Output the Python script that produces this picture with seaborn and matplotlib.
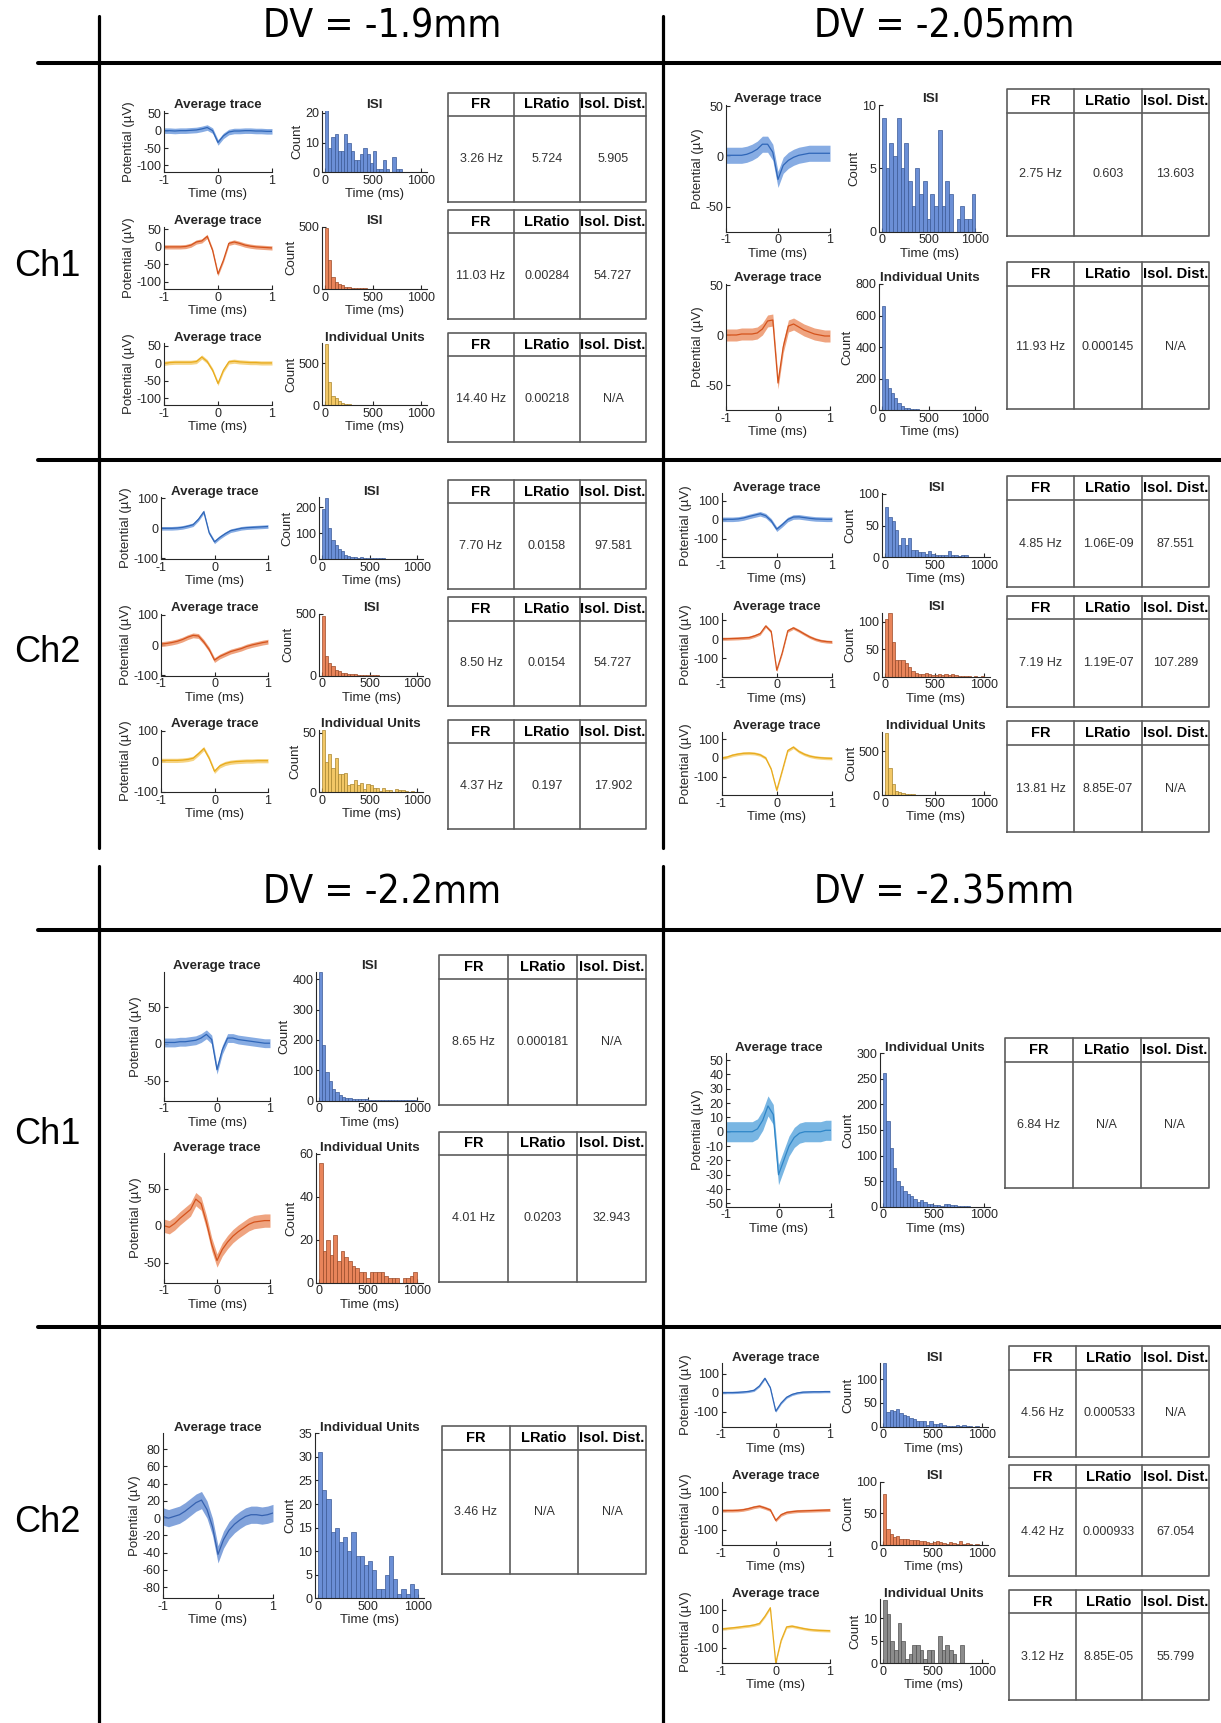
import numpy as np
import pandas as pd
import matplotlib
matplotlib.use("Agg")
import matplotlib.pyplot as plt
import seaborn as sns
from matplotlib import font_manager

sns.set_theme(style="white")
plt.rcParams['font.family'] = ['Liberation Sans', 'DejaVu Sans']
plt.rcParams['axes.unicode_minus'] = False

W, H = 1221, 1723

# ---------------- data ----------------
t_ms = [-1.0, -0.9, -0.8, -0.7, -0.6, -0.5, -0.4, -0.3, -0.2, -0.1, 0.0,
        0.1, 0.2, 0.3, 0.4, 0.5, 0.6, 0.7, 0.8, 0.9, 1.0]

# DV = -1.9mm, Ch1
a1_trace = [0, 0, -1, 0, 0, 1, 2, 5, 9, 0, -34, -15, -4, -1, -1, 0, 0, -1, -1, -2, -2]
a2_trace = [0, 0, 0, 0, 1, 5, 14, 17, 30, -10, -77, -38, 10, 14, 10, 5, 2, 0, -1, -2, -3]
a3_trace = [0, 2, 3, 3, 3, 3, 5, 18, 5, -20, -58, -20, 4, 6, 4, 3, 2, 2, 1, 1, 1]
a_sd = [8, 6, 6]
a1_hist = [21, 8, 12, 13, 7, 7, 13, 10, 7, 4, 4, 6, 8, 6, 3, 7, 1, 1, 4, 1, 0, 5, 1, 1, 0, 0, 0, 0, 0, 0]
a2_hist = [490, 230, 100, 55, 40, 30, 20, 15, 12, 10, 10, 8, 5, 4, 4, 3, 2, 2, 2, 1, 1, 1, 1, 1, 1, 0, 0, 0, 0, 0]
a3_hist = [730, 280, 110, 80, 50, 25, 12, 10, 5, 3, 2, 2, 1, 1, 0, 0, 0, 0, 0, 0, 0, 0, 0, 0, 0, 0, 0, 0, 0, 0]
a_tables = [["3.26 Hz", "5.724", "5.905"],
            ["11.03 Hz", "0.00284", "54.727"],
            ["14.40 Hz", "0.00218", "N/A"]]

# DV = -2.05mm, Ch1
b1_trace = [1, 1, 1, 1, 2, 4, 7, 12, 12, 4, -23, -9, -4, -1, 1, 2, 3, 3, 3, 3, 3]
b2_trace = [0, 0, 0, 1, 1, 1, 2, 6, 14, 15, -48, -12, 9, 11, 8, 5, 3, 1, 0, -1, -1]
b_sd = [8, 6]
b1_hist = [9, 5, 7, 6, 9, 5, 7, 4, 2, 5, 3, 4, 1, 3, 2, 8, 2, 4, 3, 0, 1, 2, 1, 1, 3]
b2_hist = [660, 200, 140, 110, 75, 45, 25, 15, 10, 8, 5, 4, 3, 2, 2, 1, 1, 1, 1, 1, 0, 0, 0, 1, 0, 0, 0, 0, 0, 0]
b_tables = [["2.75 Hz", "0.603", "13.603"],
            ["11.93 Hz", "0.000145", "N/A"]]

# DV = -1.9mm, Ch2
c1_trace = [0, 0, 0, 1, 3, 7, 12, 30, 55, -15, -45, -30, -18, -8, -4, 0, 2, 3, 4, 5, 6]
c2_trace = [3, 5, 8, 12, 18, 26, 32, 30, 10, -15, -50, -38, -30, -22, -17, -12, -5, 0, 4, 8, 11]
c3_trace = [3, 3, 3, 3, 4, 6, 10, 25, 42, 10, -33, -15, -7, -3, -1, 0, 1, 1, 2, 2, 2]
c_sd = [6, 8, 7]
c1_hist = [195, 235, 120, 75, 55, 40, 30, 15, 10, 8, 8, 5, 6, 5, 4, 3, 3, 2, 2, 2, 1, 1, 1, 1, 1, 1, 0, 1, 0, 0]
c2_hist = [480, 160, 100, 80, 45, 35, 25, 20, 15, 12, 10, 8, 6, 5, 4, 3, 2, 2, 1, 1, 1, 1, 1, 1, 1, 0, 0, 0, 1, 0]
c3_hist = [52, 25, 32, 20, 29, 15, 15, 16, 6, 7, 10, 6, 8, 3, 7, 6, 4, 4, 1, 4, 2, 2, 0, 3, 2, 2, 1, 0, 1, 0]
c_tables = [["7.70 Hz", "0.0158", "97.581"],
            ["8.50 Hz", "0.0154", "54.727"],
            ["4.37 Hz", "0.197", "17.902"]]

# DV = -2.05mm, Ch2
d1_trace = [3, 3, 3, 5, 10, 18, 25, 32, 22, -5, -49, -25, 2, 15, 16, 12, 8, 5, 4, 3, 3]
d2_trace = [3, 3, 4, 5, 7, 9, 18, 30, 70, 40, -163, -70, 45, 60, 45, 28, 12, 0, -8, -12, -14]
d3_trace = [0, 5, 15, 21, 25, 26, 24, 17, 0, -60, -172, -67, 40, 58, 35, 20, 10, 4, 1, -1, -2]
d_sd = [12, 8, 8]
d1_hist = [80, 63, 58, 43, 19, 30, 19, 30, 12, 12, 8, 8, 5, 10, 5, 4, 4, 3, 3, 10, 3, 3, 2, 4, 3, 1, 1, 1, 1, 0]
d2_hist = [105, 115, 63, 30, 30, 30, 25, 18, 10, 6, 5, 4, 6, 5, 3, 3, 4, 3, 4, 3, 4, 3, 2, 2, 1, 1, 0, 1, 0, 1]
d3_hist = [700, 310, 120, 50, 30, 20, 15, 10, 8, 5, 5, 3, 3, 2, 2, 2, 1, 1, 1, 1, 1, 1, 1, 2, 1, 1, 1, 1, 2, 1]
d_tables = [["4.85 Hz", "1.06E-09", "87.551"],
            ["7.19 Hz", "1.19E-07", "107.289"],
            ["13.81 Hz", "8.85E-07", "N/A"]]

# DV = -2.2mm, Ch1
e1_trace = [2, 2, 2, 3, 3, 4, 5, 8, 13, 6, -35, -8, 8, 8, 6, 5, 4, 3, 2, 1, 1]
e2_trace = [0, -2, 3, 10, 16, 22, 36, 30, 5, -25, -47, -32, -22, -14, -8, -3, 2, 5, 6, 7, 7]
e_sd = [6, 9]
e1_hist = [425, 185, 95, 65, 40, 28, 18, 12, 10, 8, 6, 5, 4, 4, 6, 3, 3, 2, 2, 3, 2, 1, 1, 2, 3, 1, 1, 1, 2, 1]
e2_hist = [56, 15, 20, 13, 22, 10, 15, 12, 10, 8, 7, 5, 5, 2, 5, 5, 5, 5, 3, 2, 2, 2, 0, 2, 2, 3, 5]
e_tables = [["8.65 Hz", "0.000181", "N/A"],
            ["4.01 Hz", "0.0203", "32.943"]]

# DV = -2.35mm, Ch1
f1_trace = [0, 0, 0, 0, 0, 0, 2, 8, 18, 12, -30, -20, -10, -4, -1, 0, 0, 0, 0, 1, 1]
f_sd = [7]
f1_hist = [262, 168, 115, 75, 50, 40, 30, 25, 20, 15, 10, 14, 10, 5, 5, 3, 3, 2, 5, 5, 3, 3, 2, 2, 1, 1, 0, 0, 0, 0]
f_tables = [["6.84 Hz", "N/A", "N/A"]]

# DV = -2.2mm, Ch2
g1_trace = [2, 0, 2, 4, 8, 13, 18, 21, 10, -10, -42, -25, -14, -7, -2, 2, 4, 4, 3, 4, 6]
g_sd = [10]
g1_hist = [31, 23, 21, 14, 15, 12, 13, 10, 14, 9, 9, 7, 8, 6, 2, 2, 5, 9, 4, 1, 2, 1, 3, 2]
g_tables = [["3.46 Hz", "N/A", "N/A"]]

# DV = -2.35mm, Ch2
h1_trace = [0, 0, 0, 1, 3, 6, 12, 35, 75, 25, -98, -55, -25, -10, -2, 2, 3, 4, 4, 5, 5]
h2_trace = [2, 2, 2, 3, 6, 12, 20, 25, 16, 5, -50, -20, -8, -4, -1, 0, 1, 2, 3, 4, 5]
h3_trace = [0, 2, 5, 8, 12, 15, 20, 28, 65, 110, -178, -60, 10, 14, 8, 2, -3, -6, -8, -9, -10]
h_sd = [6, 8, 7]
h1_hist = [133, 30, 34, 33, 38, 29, 25, 23, 18, 16, 11, 11, 11, 4, 11, 6, 6, 7, 3, 2, 2, 1, 3, 2, 4, 1, 1, 0, 1, 0]
h2_hist = [80, 25, 18, 12, 15, 10, 10, 10, 8, 8, 8, 6, 6, 4, 3, 4, 6, 5, 3, 2, 4, 3, 2, 7, 2, 3, 2, 0, 1, 0]
h3_hist = [14, 11, 5, 3, 9, 5, 1, 2, 4, 4, 3, 1, 3, 3, 0, 6, 3, 4, 3, 2, 0, 4, 0, 0, 0, 0, 0]
h_tables = [["4.56 Hz", "0.000533", "N/A"],
            ["4.42 Hz", "0.000933", "67.054"],
            ["3.12 Hz", "8.85E-05", "55.799"]]

col_names = ["FR", "LRatio", "Isol. Dist."]
dv_titles = ["DV = -1.9mm", "DV = -2.05mm", "DV = -2.2mm", "DV = -2.35mm"]
ch_names = ["Ch1", "Ch2", "Ch1", "Ch2"]

# ---------------- styles ----------------
trace_cols = {"b": ("#2f66b8", "#7aa3e0"), "o": ("#d4531c", "#ee9a72"),
              "y": ("#e8ab1c", "#f5d077"), "s": ("#2f86c8", "#6aaee0"),
              "g": ("#3662b0", "#7599d8")}
hist_cols = {"b": ("#6b8fd6", "#3b5a96"), "o": ("#e8845a", "#9a4a28"),
             "y": ("#f2c766", "#a8852e"), "k": ("#8c8c8c", "#505050")}
ink = "#262626"

fig = plt.figure(figsize=(W / 100, H / 100), dpi=100)


def add_ax(x0, y0, x1, y1, **kw):
    return fig.add_axes([x0 / W, 1 - y1 / H, (x1 - x0) / W, (y1 - y0) / H], **kw)


def style(ax):
    sns.despine(ax=ax)
    for s in ("left", "bottom"):
        ax.spines[s].set_color(ink)
        ax.spines[s].set_linewidth(0.8)
    ax.tick_params(direction="in", length=3, width=0.8, labelsize=9,
                   colors=ink, pad=2, left=True, bottom=True)
    ax.set_facecolor("none")


def draw_trace(ax, mean, sd, ckey, ylim, yticks):
    line_c, band_c = trace_cols[ckey]
    m = np.asarray(mean, dtype=float)
    ax.fill_between(t_ms, m - sd, m + sd, color=band_c, lw=0, alpha=0.9)
    sns.lineplot(x=t_ms, y=m, ax=ax, color=line_c, lw=0.9)
    ax.set_xlim(-1, 1)
    ax.set_ylim(*ylim)
    ax.set_xticks([-1, 0, 1])
    ax.set_yticks(yticks)
    ax.set_title("Average trace", fontsize=9.6, fontweight="bold", pad=2)
    ax.set_xlabel("Time (ms)", fontsize=9.5, labelpad=1, color=ink)
    ax.set_ylabel("Potential (µV)", fontsize=9.5, labelpad=1, color=ink)
    style(ax)


def draw_hist(ax, counts, title, ckey, ymax, yticks):
    face, edge = hist_cols[ckey]
    edges = np.linspace(0, 1000, len(counts) + 1)
    df = pd.DataFrame({"t": (edges[:-1] + edges[1:]) / 2, "n": counts})
    sns.histplot(data=df, x="t", weights="n", bins=edges.tolist(), ax=ax, color=face,
                 edgecolor=edge, linewidth=0.5, alpha=1)
    ax.set_xlim(-30, 1060)
    ax.set_ylim(0, ymax)
    ax.set_xticks([0, 500, 1000])
    ax.set_yticks(yticks)
    ax.set_title(title, fontsize=9.6, fontweight="bold", pad=2)
    ax.set_xlabel("Time (ms)", fontsize=9.5, labelpad=1, color=ink)
    ax.set_ylabel("Count", fontsize=9.5, labelpad=1, color=ink)
    style(ax)


def draw_table(ax, values, head_frac):
    ax.set_xlim(0, 3)
    ax.set_ylim(0, 1)
    ax.axis("off")
    lc = "#5c5c5c"
    ax.plot([0, 3, 3, 0, 0], [0, 0, 1, 1, 0], color=lc, lw=1.2, clip_on=False)
    for xc in (1, 2):
        ax.plot([xc, xc], [0, 1], color=lc, lw=1.2, clip_on=False)
    ax.plot([0, 3], [1 - head_frac] * 2, color=lc, lw=1.2, clip_on=False)
    for i, (name, val) in enumerate(zip(col_names, values)):
        ax.text(i + 0.5, 1 - head_frac / 2, name, ha="center", va="center",
                fontsize=10.5, fontweight="bold", color="black")
        ax.text(i + 0.5, (1 - head_frac) / 2, val, ha="center", va="center",
                fontsize=9, color="#333333")


# quadrant layout: columns (trace x, hist x, table x) and rows (axes y, table y)
quads = [
    dict(traces=[a1_trace, a2_trace, a3_trace], sd=a_sd, hists=[a1_hist, a2_hist, a3_hist],
         tables=a_tables, tc="boy", hc="boy", ht=["ISI", "ISI", "Individual Units"],
         tx=(164, 272), hx=(322, 427), bx=(448, 646),
         rows=[(110.7, 172.3), (226.7, 289), (343.3, 405)],
         trows=[(93.3, 115.7, 201.7), (210, 233.3, 319.3), (333.3, 356, 442.3)],
         ylim=(-120, 57.5), yt=[-100, -50, 0, 50],
         hy=[(20.7, [0, 10, 20]), (500, [0, 500]), (740, [0, 500])]),
    dict(traces=[b1_trace, b2_trace], sd=b_sd, hists=[b1_hist, b2_hist],
         tables=b_tables, tc="bo", hc="bb", ht=["ISI", "Individual Units"],
         tx=(726, 830), hx=(879, 981), bx=(1007, 1209),
         rows=[(105, 231.7), (284, 410)],
         trows=[(89.3, 112.7, 236), (261.7, 286, 409)],
         ylim=(-75, 51), yt=[-50, 0, 50],
         hy=[(10, [0, 5, 10]), (800, [0, 200, 400, 600, 800])]),
    dict(traces=[c1_trace, c2_trace, c3_trace], sd=c_sd, hists=[c1_hist, c2_hist, c3_hist],
         tables=c_tables, tc="boy", hc="boy", ht=["ISI", "ISI", "Individual Units"],
         tx=(161, 268), hx=(319, 423), bx=(448, 646),
         rows=[(497.3, 559), (614, 675.7), (730, 792.3)],
         trows=[(480, 503.3, 589.3), (596.7, 620.7, 706), (720, 743.3, 829.3)],
         ylim=(-102, 103), yt=[-100, 0, 100],
         hy=[(239, [0, 100, 200]), (500, [0, 500]), (52.2, [0, 50])]),
    dict(traces=[d1_trace, d2_trace, d3_trace], sd=d_sd, hists=[d1_hist, d2_hist, d3_hist],
         tables=d_tables, tc="boy", hc="boy", ht=["ISI", "ISI", "Individual Units"],
         tx=(721.5, 832), hx=(882, 990), bx=(1007, 1209),
         rows=[(493.3, 557.3), (612.7, 676.7), (731.7, 795)],
         trows=[(476, 500, 587.3), (596, 619.3, 707.3), (721, 745, 832.3)],
         ylim=(-197, 140), yt=[-100, 0, 100],
         hy=[(101, [0, 50, 100]), (116, [0, 50, 100]), (720, [0, 500])]),
    dict(traces=[e1_trace, e2_trace], sd=e_sd, hists=[e1_hist, e2_hist],
         tables=e_tables, tc="bo", hc="bo", ht=["ISI", "Individual Units"],
         tx=(164, 270), hx=(316, 423), bx=(439, 646),
         rows=[(971.7, 1100.7), (1153.3, 1282.7)],
         trows=[(955, 979, 1105), (1131.7, 1155, 1281.7)],
         ylim=(-77, 98), yt=[-50, 0, 50],
         hy=[(425, [0, 100, 200, 300, 400]), (60.3, [0, 20, 40, 60])]),
    dict(traces=[f1_trace], sd=f_sd, hists=[f1_hist],
         tables=f_tables, tc="s", hc="b", ht=["Individual Units"],
         tx=(726, 831), hx=(880, 990), bx=(1004.5, 1209),
         rows=[(1053.3, 1206.7)],
         trows=[(1038.3, 1062.3, 1187.7)],
         ylim=(-52.3, 54.7), yt=list(range(-50, 51, 10)),
         hy=[(300, list(range(0, 301, 50)))]),
    dict(traces=[g1_trace], sd=g_sd, hists=[g1_hist],
         tables=g_tables, tc="g", hc="b", ht=["Individual Units"],
         tx=(163, 273), hx=(315, 424), bx=(442, 646),
         rows=[(1433.3, 1598.3)],
         trows=[(1426, 1450, 1574.3)],
         ylim=(-93, 98.5), yt=list(range(-80, 81, 20)),
         hy=[(35, list(range(0, 36, 5)))]),
    dict(traces=[h1_trace, h2_trace, h3_trace], sd=h_sd, hists=[h1_hist, h2_hist, h3_hist],
         tables=h_tables, tc="boy", hc="bok", ht=["ISI", "ISI", "Individual Units"],
         tx=(721.5, 830), hx=(880, 988), bx=(1009, 1209),
         rows=[(1363.3, 1426.7), (1481.7, 1545), (1599.3, 1663.3)],
         trows=[(1346, 1370, 1456.7), (1465, 1488.3, 1576), (1590, 1613.3, 1700)],
         ylim=(-180, 154), yt=[-100, 0, 100],
         hy=[(133, [0, 50, 100]), (100, [0, 50, 100]), (14.2, [0, 5, 10])]),
]

for q in quads:
    for i, (y0, y1) in enumerate(q["rows"]):
        ax = add_ax(q["tx"][0], y0, q["tx"][1], y1)
        draw_trace(ax, q["traces"][i], q["sd"][i], q["tc"][i], q["ylim"], q["yt"])
        ax = add_ax(q["hx"][0], y0, q["hx"][1], y1)
        ymax, yticks = q["hy"][i]
        draw_hist(ax, q["hists"][i], q["ht"][i], q["hc"][i], ymax, yticks)
        ty0, thead, ty1 = q["trows"][i]
        ax = add_ax(q["bx"][0], ty0, q["bx"][1], ty1)
        draw_table(ax, q["tables"][i], (thead - ty0) / (ty1 - ty0))

# grid lines and headings
ov = fig.add_axes([0, 0, 1, 1], zorder=-1)
ov.set_xlim(0, W)
ov.set_ylim(H, 0)
ov.axis("off")
for xv in (99, 663):
    ov.plot([xv, xv], [16, 848], color="black", lw=2.3)
    ov.plot([xv, xv], [866, H], color="black", lw=2.3)
for yv in (63, 460, 930, 1327):
    ov.plot([38, W], [yv, yv], color="black", lw=2.9)

# a condensed face if one is installed, otherwise plain Liberation Sans
condensed = [f for f in font_manager.fontManager.ttflist
             if f.name == "DejaVu Sans" and f.stretch == "condensed" and f.style == "normal"]
if condensed:
    big_kw = dict(family=["DejaVu Sans"], fontstretch="condensed", fontsize=28)
else:
    big_kw = dict(family=["Liberation Sans", "DejaVu Sans"], fontsize=28)
for txt, (xc, yc) in zip(dv_titles, [(382, 27), (944, 27), (382, 892), (944, 892)]):
    fig.text(xc / W, 1 - yc / H, txt, ha="center", va="center", color="black", **big_kw)
for txt, yc in zip(ch_names, [267, 652, 1134, 1522]):
    fig.text(47 / W, 1 - yc / H, txt, ha="center", va="center", fontsize=26,
             family=["Liberation Sans", "DejaVu Sans"], color="black")

fig.savefig("out.png", dpi=100, facecolor="white")
